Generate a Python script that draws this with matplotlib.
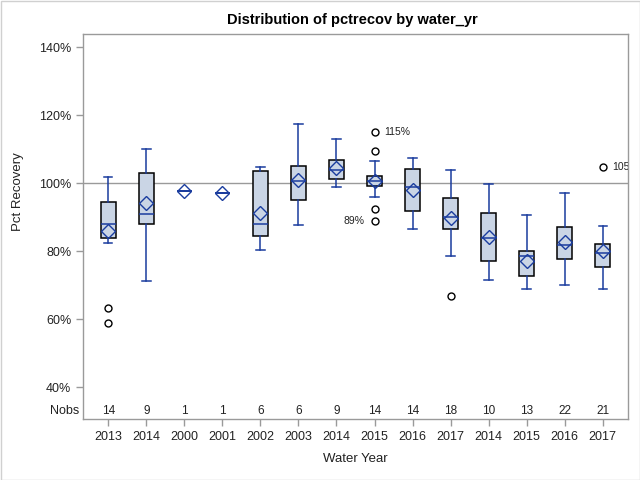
import matplotlib
matplotlib.use("Agg")
import matplotlib.pyplot as plt
from matplotlib.patches import Rectangle

plt.rcParams['font.family'] = ['Liberation Sans', 'DejaVu Sans']

categories = ["2013", "2014", "2000", "2001", "2002", "2003", "2014", "2015",
              "2016", "2017", "2014", "2015", "2016", "2017"]
nobs = [14, 9, 1, 1, 6, 6, 9, 14, 14, 18, 10, 13, 22, 21]
whislo = [82.4, 71.2, 97.6, 97.0, 80.3, 87.6, 98.8, 95.9, 86.6, 78.5, 71.5, 68.9, 70.0, 68.9]
q1 =     [83.8, 87.9, 97.6, 97.0, 84.4, 95.0, 101.2, 99.1, 91.8, 86.5, 77.1, 72.6, 77.7, 75.3]
median = [87.9, 91.0, 97.6, 97.0, 87.9, 100.8, 103.8, 100.6, 98.8, 90.1, 83.9, 78.6, 81.8, 79.4]
q3 =     [94.4, 102.9, 97.6, 97.0, 103.5, 105.0, 106.8, 102.2, 104.1, 95.6, 91.3, 80.1, 87.1, 82.1]
whishi = [101.8, 110.0, 97.6, 97.0, 104.7, 117.5, 113.1, 106.5, 107.4, 104.0, 99.9, 90.6, 97.1, 87.4]
means =  [86.0, 94.1, 97.6, 97.0, 91.4, 100.9, 104.5, 100.7, 97.9, 89.9, 84.1, 77.2, 82.7, 80.1]
outliers = [[63.2, 58.8], [], [], [], [], [], [], [115.2, 109.4, 92.4, 88.8],
            [], [66.9], [], [], [], [104.8]]
outlier_labels = [(7, 115.2, "115%", "right"), (7, 88.8, "89%", "left"),
                  (13, 104.8, "105%", "right")]

blue = '#1A3C9E'
fill = '#CAD5E5'
grey = '#9A9A9A'

fig = plt.figure(figsize=(6.4, 4.8), dpi=100)
ax = fig.add_axes([83/640, 1 - 419/480, (628 - 83)/640, (419 - 34)/480])

stats = []
for i in range(len(categories)):
    stats.append(dict(med=median[i], q1=q1[i], q3=q3[i], whislo=whislo[i],
                      whishi=whishi[i], mean=means[i], fliers=outliers[i]))

positions = list(range(len(categories)))
ax.axhline(100, color=grey, lw=1, zorder=1)
res = ax.bxp(stats, positions=positions, widths=0.4, patch_artist=True,
             showmeans=True, showfliers=True, manage_ticks=False,
             boxprops=dict(facecolor=fill, edgecolor='black', lw=1.1),
             whiskerprops=dict(color=blue, lw=1.1),
             capprops=dict(color=blue, lw=1.1),
             capwidths=0.22,
             medianprops=dict(color=blue, lw=1.1),
             meanprops=dict(marker='D', markerfacecolor='none', markeredgecolor=blue,
                            markersize=7.5, markeredgewidth=1.0),
             flierprops=dict(marker='o', markerfacecolor='none', markeredgecolor='black',
                             markersize=5, markeredgewidth=1.0))
for i, b in enumerate(res['boxes']):
    if q1[i] == q3[i]:
        b.set_edgecolor(blue)

for (i, v, lab, side) in outlier_labels:
    if side == "right":
        ax.annotate(lab, (positions[i], v), xytext=(7, 0), textcoords='offset points',
                    ha='left', va='center', fontsize=7.5, color='#222222',
                    annotation_clip=False, clip_on=True)
    else:
        ax.annotate(lab, (positions[i], v), xytext=(-7, 0), textcoords='offset points',
                    ha='right', va='center', fontsize=7.5, color='#222222',
                    clip_on=True)

# Nobs row
for i, n in enumerate(nobs):
    ax.text(positions[i], 0.021, str(n), transform=ax.get_xaxis_transform(),
            ha='center', va='center', fontsize=8.5, color='#222222')
fig.text(79/640, 1 - 411/480, "Nobs", ha='right', va='center', fontsize=9, color='#222222')

ax.set_xlim(-0.665, 13.665)
ax.set_ylim(100 - (419 - 183.3)/3.4, 100 + (183.3 - 34)/3.4)
yt = [40, 60, 80, 100, 120, 140]
ax.set_yticks(yt)
ax.set_yticklabels([f"{t}%" for t in yt])
ax.set_xticks(positions)
ax.set_xticklabels(categories)
ax.tick_params(axis='both', colors=grey, labelcolor='#222222', labelsize=9,
               length=5, width=1, direction='out')
for s in ax.spines.values():
    s.set_color(grey)
    s.set_linewidth(1)

fig.text(18/640, 1 - 192/480, "Pct Recovery", rotation=90, ha='center', va='center',
         fontsize=9.5, color='#222222')
fig.text(355.5/640, 1 - 459/480, "Water Year", ha='center', va='center',
         fontsize=9.5, color='#222222')
fig.text(352/640, 1 - 20/480, "Distribution of pctrecov by water_yr", ha='center',
         va='center', fontsize=10.5, fontweight='bold', color='black')

fig.patches.append(Rectangle((0.5/640, 0.5/480), 639/640, 479/480, transform=fig.transFigure,
                             fill=False, edgecolor='#D0D0D0', lw=1))

fig.savefig("out.png", dpi=100)
